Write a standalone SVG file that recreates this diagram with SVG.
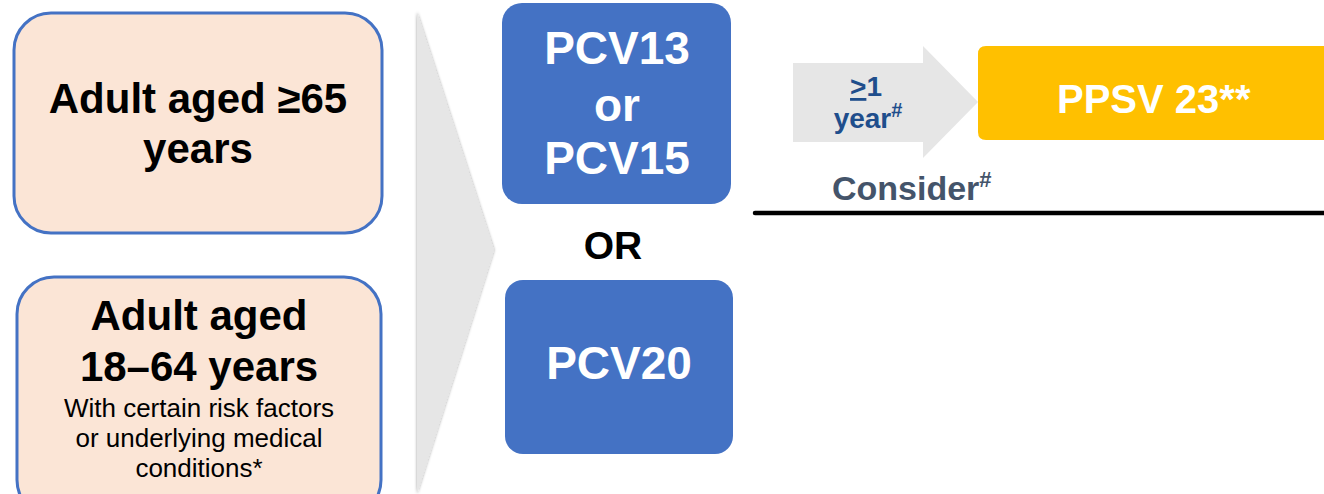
<svg xmlns="http://www.w3.org/2000/svg" width="1324" height="494" viewBox="0 0 1324 494">
  <defs>
    <filter id="shadow" x="-10%" y="-5%" width="120%" height="110%">
      <feDropShadow dx="0" dy="0" stdDeviation="1.5" flood-color="#000" flood-opacity="0.4"/>
    </filter>
  </defs>
  <style>
    .age { fill: #fbe5d6; stroke: #4472c4; stroke-width: 3; }
    .vac { fill: #4472c4; }
    .big { font-family: "Liberation Sans", Arial, sans-serif; font-weight: bold; font-size: 42px; fill: #000; text-anchor: middle; }
    .small { font-family: "Liberation Sans", Arial, sans-serif; font-size: 26px; fill: #000; text-anchor: middle; }
    .vtxt { font-family: "Liberation Sans", Arial, sans-serif; font-weight: bold; font-size: 46px; fill: #fff; text-anchor: middle; }
    .or { font-family: "Liberation Sans", Arial, sans-serif; font-weight: bold; font-size: 39px; fill: #000; text-anchor: middle; }
    .ppsv { font-family: "Liberation Sans", Arial, sans-serif; font-weight: bold; font-size: 40px; fill: #fff; }
    .gap { font-family: "Liberation Sans", Arial, sans-serif; font-weight: bold; font-size: 28px; fill: #1f4e8c; text-anchor: middle; }
    .consider { font-family: "Liberation Sans", Arial, sans-serif; font-weight: bold; font-size: 34px; fill: #44546a; }
    .sup { font-weight: bold; }
  </style>
  <rect width="1324" height="494" fill="#fff"/>

  <g id="connectors">
    <polygon points="417,12 494,250 417,494" fill="#e6e6e6" filter="url(#shadow)"/>
    <polygon points="793,63 923,63 923,46 978,102 923,158 923,142 793,142" fill="#e6e6e6"/>
    <line x1="755" y1="213" x2="1330" y2="213" stroke="#000" stroke-width="4.5" stroke-linecap="round"/>
  </g>

  <g id="node-adult65">
    <rect class="age" x="14" y="13" width="368" height="220" rx="37"/>
    <text class="big" x="198" y="113">Adult aged ≥65</text>
    <text class="big" x="198" y="163">years</text>
  </g>

  <g id="node-adult18-64">
    <rect class="age" x="17" y="277" width="364" height="240" rx="37"/>
    <text class="big" x="199" y="330">Adult aged</text>
    <text class="big" x="199" y="381">18–64 years</text>
    <text class="small" x="199" y="417">With certain risk factors</text>
    <text class="small" x="199" y="447">or underlying medical</text>
    <text class="small" x="199" y="477">conditions*</text>
  </g>

  <g id="node-pcv13-15">
    <rect class="vac" x="502" y="3" width="229" height="201" rx="20"/>
    <text class="vtxt" x="617" y="64">PCV13</text>
    <text class="vtxt" x="617" y="121">or</text>
    <text class="vtxt" x="617" y="174">PCV15</text>
  </g>

  <g id="node-or">
    <text class="or" x="613" y="259">OR</text>
  </g>

  <g id="node-pcv20">
    <rect class="vac" x="505" y="280" width="228" height="174" rx="18"/>
    <text class="vtxt" x="619" y="379">PCV20</text>
  </g>

  <g id="node-interval">
    <text class="gap" x="866" y="96"><tspan text-decoration="underline">&gt;</tspan>1</text>
    <text class="gap" x="868" y="128">year<tspan class="sup" font-size="20" dy="-11">#</tspan></text>
  </g>

  <g id="node-ppsv23">
    <path d="M986,46 H1330 V140 H986 Q978,140 978,132 V54 Q978,46 986,46 Z" fill="#ffc000"/>
    <text class="ppsv" x="1057" y="113">PPSV 23**</text>
  </g>

  <g id="node-consider">
    <text class="consider" x="832" y="200">Consider<tspan class="sup" font-size="22" dy="-13">#</tspan></text>
  </g>
</svg>
